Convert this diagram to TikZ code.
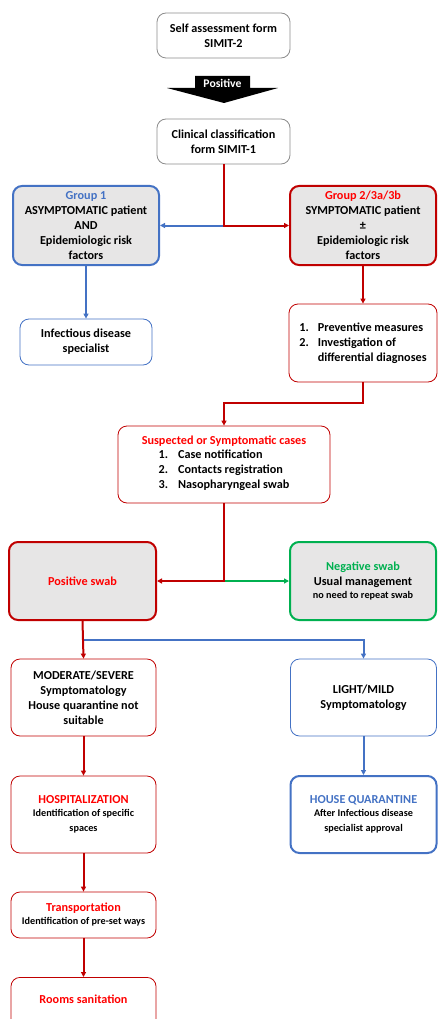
\documentclass[tikz,border=0pt]{standalone}
\usepackage{fontspec}
\setmainfont{Carlito}
\usetikzlibrary{arrows.meta,calc}
\definecolor{dred}{HTML}{C00000}
\definecolor{tred}{HTML}{FF0000}
\definecolor{oblue}{HTML}{4472C4}
\definecolor{ogreen}{HTML}{00B050}
\definecolor{ogray}{HTML}{E7E6E6}
\definecolor{bgray}{HTML}{8C8C8C}
\newcommand{\smalltxt}{\fontsize{10.2}{13}\selectfont}
\begin{document}
\begin{tikzpicture}[x=1pt,y=-1pt,>={Triangle[length=5pt,width=5pt]},
    box/.style={draw,rounded corners=9pt,align=center,inner sep=1pt,
        font=\bfseries\fontsize{12.2}{15}\selectfont},
    thinbox/.style={box,line width=0.8pt},
    thickbox/.style={box,line width=2pt,fill=ogray},
    leftcol/.style={minimum width=145,minimum height=77},
    rightcol/.style={minimum width=146,minimum height=77},
    rline/.style={dred,line width=2pt},
    bline/.style={oblue,line width=2pt},
    gline/.style={ogreen,line width=2pt}]
\useasboundingbox (0,0) rectangle (438,1019);
\node[thinbox,draw=bgray,minimum width=133,minimum height=45] (self) at (223.5,35.5) {Self assessment form\\SIMIT-2};
\fill (195,76)--(250,76)--(250,88)--(278,88)--(224,103)--(167,88)--(195,88)--cycle;
\node[white,font=\bfseries\fontsize{11.7}{12}\selectfont] (positive) at (222.5,83.5) {Positive};
\node[thinbox,draw=bgray,minimum width=133,minimum height=45] (clin) at (223.5,141.5) {Clinical classification\\form SIMIT-1};
\node[thickbox,draw=oblue,minimum width=146,minimum height=79] (grp1) at (86,225.5)
    {{\color{oblue}Group 1}\\ASYMPTOMATIC patient\\AND\\Epidemiologic risk\\factors};
\node[thickbox,draw=dred,minimum width=146,minimum height=79] (grp2) at (363,225.5)
    {{\color{tred}Group 2/3a/3b}\\SYMPTOMATIC patient\\±\\Epidemiologic risk\\factors};
\node[thinbox,draw=oblue,minimum width=132,minimum height=46] (infect) at (86,342) {Infectious disease\\specialist};
\node[thinbox,draw=dred,minimum width=148,minimum height=78] (prev) at (363,343)
    {\begin{tabular}{@{}l@{\hspace{9pt}}l@{}}1.&Preventive measures\\2.&Investigation of\\&differential diagnoses\end{tabular}};
\node[thinbox,draw=dred,minimum width=212,minimum height=77] (susp) at (224,464.5)
    {{\color{tred}Suspected or Symptomatic cases}\\
    \begin{tabular}{@{}l@{\hspace{10pt}}l@{}}1.&Case notification\\2.&Contacts registration\\3.&Nasopharyngeal swab\end{tabular}\hspace{14pt}};
\node[thickbox,draw=dred,minimum width=147,minimum height=78,text=tred] (pos) at (82.5,581) {Positive swab};
\node[thickbox,draw=ogreen,minimum width=146,minimum height=78] (neg) at (363,581)
    {{\color{ogreen}Negative swab}\\Usual management\\[-2pt]\smalltxt no need to repeat swab};
\node[thinbox,draw=dred,leftcol] (mod) at (83.5,697.5) {MODERATE/SEVERE\\Symptomatology\\House quarantine not\\suitable};
\node[thinbox,draw=oblue,rightcol] (light) at (363.5,697.5) {LIGHT/MILD\\Symptomatology};
\node[thinbox,draw=dred,leftcol] (hosp) at (83.5,814.5)
    {{\color{tred}HOSPITALIZATION}\\[-2pt]\smalltxt Identification of specific\\\smalltxt spaces};
\node[box,line width=2pt,draw=oblue,rightcol] (quar) at (363.5,814.5)
    {{\color{oblue}HOUSE QUARANTINE}\\[-2pt]\smalltxt After Infectious disease\\\smalltxt specialist approval};
\node[thinbox,draw=dred,minimum width=145,minimum height=46] (trans) at (83.5,915)
    {{\color{tred}Transportation}\\[-2pt]\smalltxt Identification of pre-set ways};
\node[thinbox,draw=dred,minimum width=145,minimum height=60,text depth=16pt,anchor=north,text=tred] (rooms) at (83.5,977) {Rooms sanitation};
\draw[bline,->] (clin.south |- grp1.east) -- (grp1.east);
\draw[rline,->] (clin.south) |- (grp2.west);
\draw[bline,->] (grp1.south) -- (infect.north);
\draw[rline,->] (grp2.south) -- (prev.north);
\draw[rline,->] (prev.south) -- ++(0,21) -| (susp.north);
\draw[gline,->] (susp.south |- neg.west) -- (neg.west);
\draw[rline,->] (susp.south) |- (pos.east);
\coordinate (split) at ($(pos.south)!0.5!(mod.north)$);
\draw[bline,->] (split) -| (light.north);
\draw[rline,->] (pos.south) -- (mod.north);
\draw[bline,->] (light.south) -- (quar.north);
\draw[rline,->] (mod.south) -- (hosp.north);
\draw[rline,->] (hosp.south) -- (trans.north);
\draw[rline,->] (trans.south) -- (rooms.north);
\end{tikzpicture}
\end{document}
